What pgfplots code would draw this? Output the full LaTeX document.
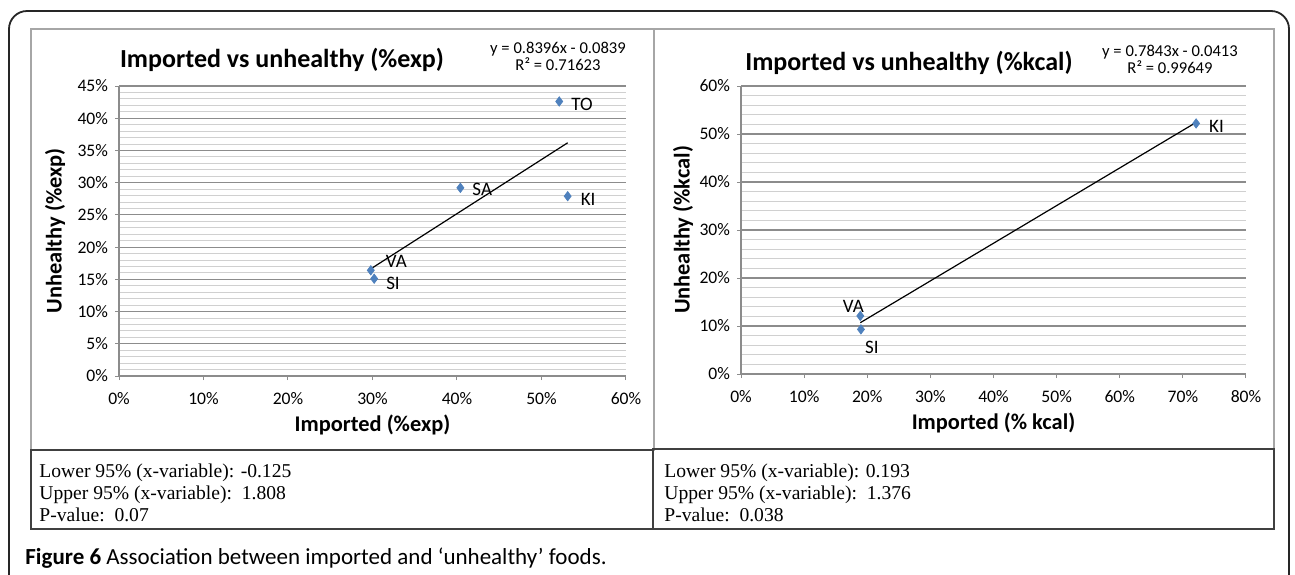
\documentclass[border=0pt]{standalone}
\usepackage{pgfplots}
\pgfplotsset{compat=1.18}
\usepackage{fontspec}
\setmainfont{Carlito}
\newfontfamily\timesf{Liberation Serif}
\definecolor{xlblue}{HTML}{4F81BD}
\definecolor{majgrid}{HTML}{8C8C8C}
\definecolor{mingrid}{HTML}{D0D0D0}
\definecolor{framegray}{HTML}{A6A6A6}
\pgfplotsset{
  xlstyle/.style={
    scale only axis,
    axis x line*=bottom, axis y line*=left,
    axis line style={majgrid, line width=0.6pt},
    tick align=outside, major tick length=2pt, minor tick length=0pt,
    tick style={majgrid, line width=0.5pt},
    ymajorgrids, yminorgrids,
    major grid style={majgrid, line width=0.6pt},
    minor grid style={mingrid, line width=0.5pt},
    minor y tick num=4,
    tick label style={font=\fontsize{8.8}{10}\selectfont},
    xticklabel style={yshift=-2.5pt},
    /pgf/number format/assume math mode=true,
    xticklabel={\pgfmathprintnumber{\tick}\%},
    yticklabel={\pgfmathprintnumber{\tick}\%},
    label style={font=\fontsize{11.2}{13}\selectfont\bfseries},
    clip=false,
  }
}
\begin{document}
\begin{tikzpicture}[x=0.5pt,y=-0.5pt]
\useasboundingbox (0,0) rectangle (1295,574);
% outer frame
\draw[line width=0.9pt, black!85, rounded corners=9pt] (9,580) -- (9,11) -- (1289,11) -- (1289,580);
% chart frames
\draw[framegray, line width=0.6pt] (31,29) rectangle (654,450);
\draw[framegray, line width=0.6pt] (654,29) rectangle (1274,449);
% text boxes
\draw[black!75, line width=0.8pt] (31,450) rectangle (653,529);
\draw[black!75, line width=0.8pt] (653,449) rectangle (1274,529);

% LEFT AXIS
\begin{axis}[xlstyle,
  at={(59.5pt,-188pt)}, anchor=south west,
  width=253.5pt, height=145pt,
  xmin=0, xmax=60, ymin=0, ymax=45,
  xtick={0,10,...,60}, ytick={0,5,...,45},
  xlabel={Imported (\%exp)}, ylabel={Unhealthy (\%exp)},
  xlabel style={at={(axis description cs:0.5,0)}, anchor=center, yshift=-24.5pt},
  ylabel style={at={(axis description cs:0,0.5)}, anchor=center, yshift=32pt},
]
\addplot[black, line width=0.6pt] coordinates {(29.8,16.63) (53.1,36.19)};
\addplot[only marks, mark=diamond*, mark size=2.3pt, color=xlblue] coordinates {
 (52.1,42.6) (40.4,29.2) (53.1,27.9) (29.8,16.4) (30.2,15.1)};
\node[anchor=west, font=\fontsize{9.5}{11}\selectfont, xshift=2.5pt, yshift=-1.5pt] at (axis cs:52.1,42.6) {TO};
\node[anchor=west, font=\fontsize{9.5}{11}\selectfont, xshift=2.5pt, yshift=-1pt] at (axis cs:40.4,29.2) {SA};
\node[anchor=west, font=\fontsize{9.5}{11}\selectfont, xshift=3pt, yshift=-1.5pt] at (axis cs:53.1,27.9) {KI};
\node[anchor=west, font=\fontsize{9.5}{11}\selectfont, xshift=4pt, yshift=4.5pt] at (axis cs:29.8,16.4) {VA};
\node[anchor=west, font=\fontsize{9.5}{11}\selectfont, xshift=2.5pt, yshift=-2.5pt] at (axis cs:30.2,15.1) {SI};
\end{axis}

% RIGHT AXIS
\begin{axis}[xlstyle,
  at={(370.5pt,-187pt)}, anchor=south west,
  width=252.5pt, height=144pt,
  xmin=0, xmax=80, ymin=0, ymax=60,
  xtick={0,10,...,80}, ytick={0,10,...,60},
  xlabel={Imported (\% kcal)}, ylabel={Unhealthy (\%kcal)},
  xlabel style={at={(axis description cs:0.5,0)}, anchor=center, yshift=-24.5pt},
  ylabel style={at={(axis description cs:0,0.5)}, anchor=center, yshift=29pt},
]
\addplot[black, line width=0.6pt] coordinates {(18.9,10.69) (72.1,52.42)};
\addplot[only marks, mark=diamond*, mark size=2.3pt, color=xlblue] coordinates {
 (72.1,52.2) (18.9,12.1) (19.0,9.3)};
\node[anchor=west, font=\fontsize{9.5}{11}\selectfont, xshift=3pt, yshift=-1.5pt] at (axis cs:72.1,52.2) {KI};
\node[anchor=center, font=\fontsize{9.5}{11}\selectfont, xshift=-3.5pt, yshift=5pt] at (axis cs:18.9,12.1) {VA};
\node[anchor=center, font=\fontsize{9.5}{11}\selectfont, xshift=5.5pt, yshift=-9pt] at (axis cs:19.0,9.3) {SI};
\end{axis}

% titles and equations
\node[font=\fontsize{13}{15}\selectfont\bfseries] at (282,60) {Imported vs unhealthy (\%exp)};
\node[font=\fontsize{13}{15}\selectfont\bfseries] at (909,63) {Imported vs unhealthy (\%kcal)};
\node[font=\fontsize{8.3}{9.5}\selectfont, align=center] at (558,56) {y = 0.8396x - 0.0839\\[-1pt]R² = 0.71623};
\node[font=\fontsize{8.3}{9.5}\selectfont, align=center] at (1170,59) {y = 0.7843x - 0.0413\\[-1pt]R² = 0.99649};

% stats text
\node[anchor=north west, font=\timesf\fontsize{9.8}{11}\selectfont, align=left, inner sep=0pt] at (39,463)
 {Lower 95\% (x-variable): -0.125\\Upper 95\% (x-variable):\ \ 1.808\\P-value:\ \ 0.07};
\node[anchor=north west, font=\timesf\fontsize{9.8}{11}\selectfont, align=left, inner sep=0pt] at (664,463)
 {Lower 95\% (x-variable): 0.193\\Upper 95\% (x-variable):\ \ 1.376\\P-value:\ \ 0.038};

% caption
\node[anchor=west, font=\fontsize{11.5}{13}\selectfont, inner sep=0pt] at (25,558)
 {\textbf{Figure 6} Association between imported and ‘unhealthy’ foods.};
\end{tikzpicture}
\end{document}
